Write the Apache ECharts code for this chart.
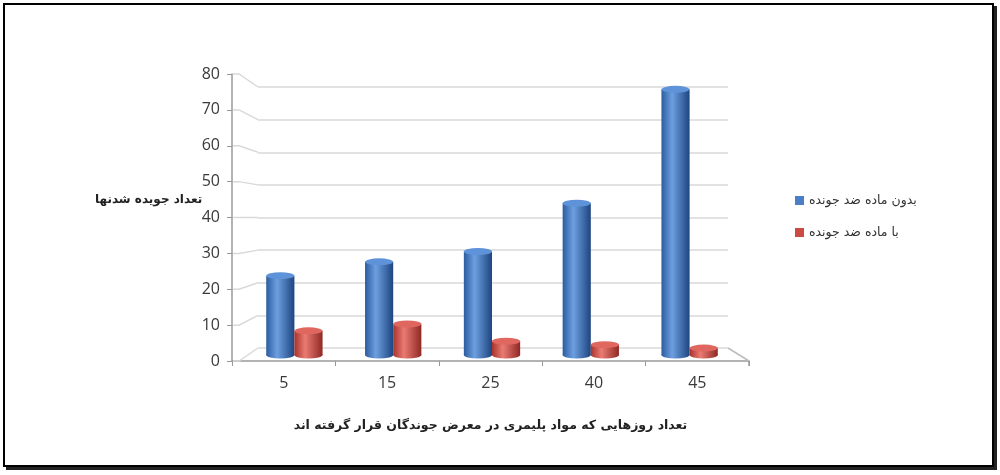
<!DOCTYPE html>
<html>
<head>
<meta charset="utf-8">
<script src="https://cdn.jsdelivr.net/npm/echarts@6/dist/echarts.min.js"></script>
<style>
html,body{margin:0;padding:0;background:#fff;}
#wrap{position:relative;width:1000px;height:475px;}
#chart{width:1000px;height:475px;}
#frame{position:absolute;left:3px;top:3px;width:987px;height:460px;border:2px solid #000;box-shadow:3px 3px 0 #222;pointer-events:none;}
</style>
</head>
<body>
<div id="wrap"><div id="chart"></div><div id="frame"></div></div>
<script>
var categories = ['5', '15', '25', '40', '45'];
var seriesNames = ['بدون ماده ضد جونده', 'با ماده ضد جونده'];
var withoutRepellent = [23, 27, 30, 44, 77];
var withRepellent = [7, 9, 4, 3, 2];
var yTicks = [0, 10, 20, 30, 40, 50, 60, 70, 80];
var yTitle = 'تعداد جویده شدنها';
var xTitle = 'تعداد روزهایی که مواد پلیمری در معرض جوندگان قرار گرفته اند';

var chart = echarts.init(document.getElementById('chart'));

function grad(dark, light, dark2) {
  return new echarts.graphic.LinearGradient(0, 0, 1, 0, [
    {offset: 0, color: dark},
    {offset: 0.38, color: light},
    {offset: 1, color: dark2}
  ]);
}
var styles = [
  {body: ['#2b5c9f', '#6d9fe0', '#1d4580'], top: '#5e92d9', legend: '#4a7fc8'},
  {body: ['#a8332d', '#ea7b73', '#8f2824'], top: '#df6760', legend: '#cc4a44'}
];
var BAR_RATIO = 0.285;

function cylinder(seriesIdx) {
  return function (params, api) {
    var idx = api.value(0);
    var base = api.coord([idx, 0]);
    var top = api.coord([idx, api.value(1)]);
    var band = api.size([1, 0])[0];
    var w = band * BAR_RATIO;
    var cx = base[0] + (seriesIdx === 0 ? -w / 2 : w / 2);
    var rx = w / 2, ry = 3.5;
    var s = styles[seriesIdx];
    var body = grad(s.body[0], s.body[1], s.body[2]);
    return {
      type: 'group',
      children: [
        {type: 'circle', x: cx, y: base[1], scaleY: ry / rx,
         shape: {cx: 0, cy: 0, r: rx}, style: {fill: grad(s.body[0], s.body[1], s.body[2])}},
        {type: 'rect', shape: {x: cx - rx, y: top[1], width: w, height: base[1] - top[1]},
         style: {fill: body}},
        {type: 'circle', x: cx, y: top[1], scaleY: ry / rx,
         shape: {cx: 0, cy: 0, r: rx}, style: {fill: s.top}}
      ]
    };
  };
}

var option = {
  animation: false,
  textStyle: {fontFamily: 'DejaVu Sans'},
  grid: [
    {left: 232, right: 251, top: 74, bottom: 114},
    {left: 258, right: 272, top: 87, bottom: 127},
    {left: 245, right: 261, top: 79, bottom: 120}
  ],
  legend: {
    orient: 'vertical', left: 790, top: 189, itemGap: 19,
    itemWidth: 9, itemHeight: 9, icon: 'rect',
    data: seriesNames,
    textStyle: {fontFamily: 'DejaVu Sans', fontSize: 12.5, color: '#333'}
  },
  xAxis: [
    {gridIndex: 0, type: 'category', data: categories,
     axisLine: {lineStyle: {color: '#9a9a9a', width: 1.5}},
     axisTick: {show: true, length: 5, lineStyle: {color: '#9a9a9a'}},
     axisLabel: {fontFamily: 'Open Sans', fontSize: 16, color: '#3a3a3a', margin: 14},
     name: xTitle, nameLocation: 'middle', nameGap: 58,
     nameTextStyle: {fontFamily: 'DejaVu Sans', fontWeight: 'bold', fontSize: 12.5, color: '#222'}},
    {gridIndex: 1, type: 'category', data: categories, show: false},
    {gridIndex: 2, type: 'category', data: categories, show: false}
  ],
  yAxis: [
    {gridIndex: 0, type: 'value', min: 0, max: 80, interval: 10,
     axisLine: {show: true, lineStyle: {color: '#9a9a9a', width: 1.5}},
     axisTick: {show: true, inside: false, length: 5, lineStyle: {color: '#9a9a9a'}},
     splitLine: {show: false},
     axisLabel: {fontFamily: 'Open Sans', fontSize: 16, color: '#3a3a3a', margin: 12}},
    {gridIndex: 1, type: 'value', min: 0, max: 80, interval: 10,
     axisLine: {show: false}, axisTick: {show: false}, axisLabel: {show: false},
     splitLine: {show: true, lineStyle: {color: '#d9d9d9', width: 1.5}}},
    {gridIndex: 2, type: 'value', min: 0, max: 80, interval: 10, show: false,
     splitLine: {show: false}}
  ],
  series: [
    {name: seriesNames[0], type: 'custom', xAxisIndex: 2, yAxisIndex: 2,
     renderItem: cylinder(0), encode: {x: 0, y: 1},
     itemStyle: {color: styles[0].legend},
     data: withoutRepellent.map(function (v, i) { return [i, v]; }), z: 3},
    {name: seriesNames[1], type: 'custom', xAxisIndex: 2, yAxisIndex: 2,
     renderItem: cylinder(1), encode: {x: 0, y: 1},
     itemStyle: {color: styles[1].legend},
     data: withRepellent.map(function (v, i) { return [i, v]; }), z: 3}
  ],
  graphic: [
    {type: 'text', left: 95, top: 194, z: 10,
     style: {text: yTitle, font: 'bold 12px "DejaVu Sans"', fill: '#222'}}
  ]
};
chart.setOption(option);

// 3D connectors from front axis ticks to back wall gridlines
var g = [];
var frontX = 233, backX = 258, backRight = 728, frontRight = 749;
yTicks.forEach(function (v) {
  var yf = chart.convertToPixel({yAxisIndex: 0}, v);
  var yb = chart.convertToPixel({yAxisIndex: 1}, v);
  g.push({type: 'polyline', z: 1, silent: true,
    shape: {points: [[frontX, yf], [frontX + 6, yf], [backX, yb]]},
    style: {stroke: '#d9d9d9', lineWidth: 1.5, fill: null}});
});
var y0f = chart.convertToPixel({yAxisIndex: 0}, 0);
var y0b = chart.convertToPixel({yAxisIndex: 1}, 0);
g.push({type: 'line', z: 1, silent: true,
  shape: {x1: frontRight, y1: y0f, x2: backRight, y2: y0b},
  style: {stroke: '#bdbdbd', lineWidth: 1.5}});
g.push({type: 'line', z: 1, silent: true,
  shape: {x1: frontRight, y1: y0f, x2: frontRight, y2: y0f + 5},
  style: {stroke: '#9a9a9a', lineWidth: 1.5}});
chart.setOption({graphic: option.graphic.concat(g)});
</script>
</body>
</html>
